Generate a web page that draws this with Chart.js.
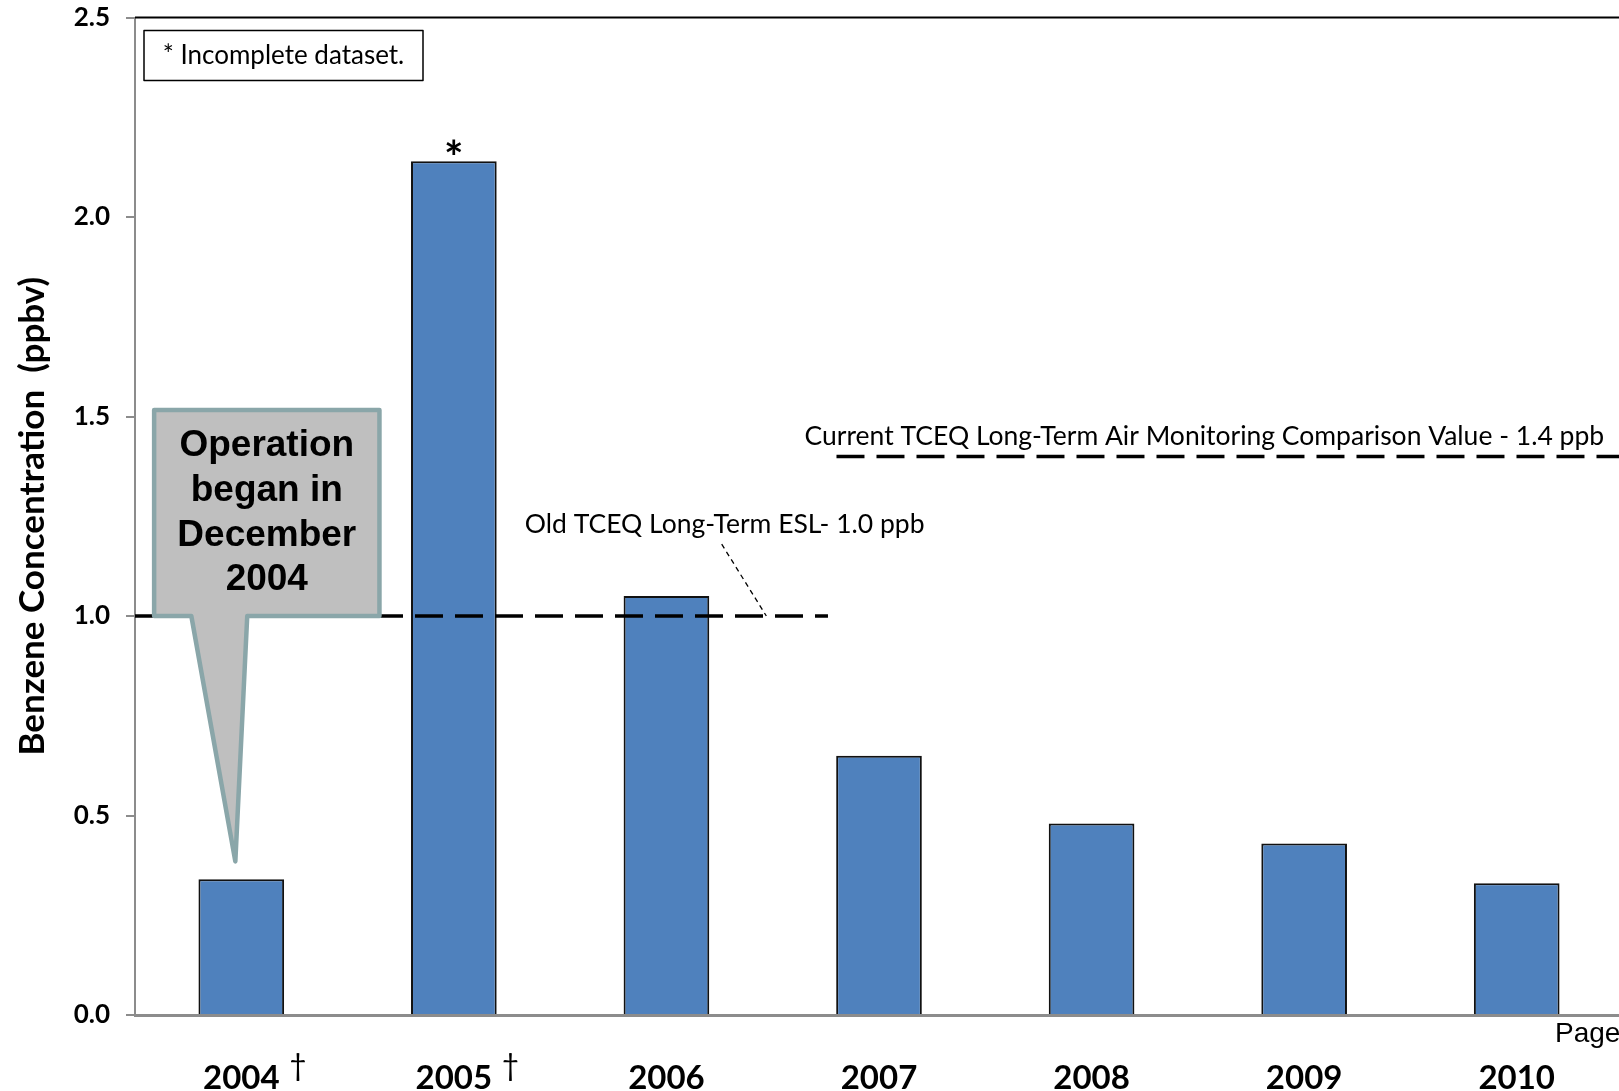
<!DOCTYPE html>
<html>
<head>
<meta charset="utf-8">
<script src="https://cdn.jsdelivr.net/npm/chart.js@4.4.0/dist/chart.umd.min.js"></script>
<style>
  html, body { margin: 0; padding: 0; background: #fff; overflow: hidden; }
  #wrap { width: 1623px; height: 1091px; }
</style>
</head>
<body>
<div id="wrap"><canvas id="myChart" width="1623" height="1091"></canvas></div>
<script>
// values
const years = ['2004', '2005', '2006', '2007', '2008', '2009', '2010'];
const benzene = [0.34, 2.14, 1.05, 0.65, 0.48, 0.43, 0.33];
const yTicks = [0, 0.5, 1.0, 1.5, 2.0, 2.5];
const daggerYears = ['2004', '2005'];
const incompleteYears = ['2005'];
const oldEsl = 1.0;
const currentAmcv = 1.4;
const eslLabel = 'Old TCEQ Long-Term ESL- 1.0 ppb';
const amcvLabel = 'Current TCEQ Long-Term Air Monitoring Comparison Value - 1.4 ppb';
const calloutLines = ['Operation', 'began in', 'December', '2004'];

function line(ctx, x0, y0, x1, y1) {
  ctx.beginPath();
  ctx.moveTo(x0, y0);
  ctx.lineTo(x1, y1);
  ctx.stroke();
}

// text centred vertically on its glyphs
function midText(ctx, txt, x, y) {
  const m = ctx.measureText(txt);
  ctx.textBaseline = 'alphabetic';
  ctx.fillText(txt, x, y + (m.actualBoundingBoxAscent - m.actualBoundingBoxDescent) / 2);
}

const notes = {
  id: 'notes',
  afterDatasetsDraw(chart) {
    const {ctx, chartArea: a, scales: {x, y}} = chart;
    const px = v => x.getPixelForValue(v);
    const py = v => y.getPixelForValue(v);
    ctx.save();

    // top frame
    ctx.strokeStyle = '#000';
    ctx.lineWidth = 2;
    line(ctx, a.left, a.top, a.right, a.top);

    // reference levels
    ctx.lineWidth = 3.5;
    ctx.setLineDash([28, 12]);
    line(ctx, px(-0.5), py(oldEsl), px(2.76), py(oldEsl));
    line(ctx, px(2.8), py(currentAmcv), a.right + 20, py(currentAmcv));

    // leader from ESL label
    ctx.lineWidth = 1.3;
    ctx.setLineDash([5, 4]);
    line(ctx, px(2.26), py(1.18), px(2.47), py(oldEsl));
    ctx.setLineDash([]);

    ctx.fillStyle = '#000';
    ctx.textAlign = 'left';
    ctx.font = '26.5px Lato';
    midText(ctx, eslLabel, px(1.334), py(1.226));
    midText(ctx, amcvLabel, px(2.65), py(1.447));

    // callout
    const bx0 = px(-0.41), bx1 = px(0.65);
    const bTop = py(1.516), bBot = py(oldEsl);
    ctx.beginPath();
    ctx.moveTo(bx0, bTop);
    ctx.lineTo(bx1, bTop);
    ctx.lineTo(bx1, bBot);
    ctx.lineTo(px(0.028), bBot);
    ctx.lineTo(px(-0.028), py(0.385));
    ctx.lineTo(px(-0.235), bBot);
    ctx.lineTo(bx0, bBot);
    ctx.closePath();
    ctx.fillStyle = '#bfbfbf';
    ctx.fill();
    ctx.lineJoin = 'round';
    ctx.lineWidth = 4.5;
    ctx.strokeStyle = '#8aa6a9';
    ctx.stroke();
    ctx.fillStyle = '#000';
    ctx.textAlign = 'center';
    ctx.textBaseline = 'alphabetic';
    ctx.font = 'bold 37px "Liberation Sans"';
    calloutLines.forEach((t, i) => ctx.fillText(t, (bx0 + bx1) / 2, bTop + 46 + i * 44.7));

    // note box
    ctx.strokeStyle = '#000';
    ctx.lineWidth = 1.5;
    ctx.strokeRect(a.left + 9, a.top + 13, 279, 50);
    ctx.font = '26px Lato';
    midText(ctx, '* Incomplete dataset.', a.left + 9 + 139.5, a.top + 38);

    // incomplete-data markers
    ctx.font = 'bold 46px Lato';
    incompleteYears.forEach(yr => {
      const i = years.indexOf(yr);
      midText(ctx, '*', px(i), py(benzene[i]) - 14);
    });

    // daggers beside tick labels
    ctx.textAlign = 'left';
    ctx.font = '30px Lato';
    daggerYears.forEach(yr => {
      midText(ctx, '\u2020', px(years.indexOf(yr)) + 48, a.bottom + 52);
    });

    // page footer fragment
    ctx.font = '28px "Liberation Sans"';
    ctx.textBaseline = 'alphabetic';
    ctx.fillText('Page', a.right - 68, a.bottom + 27);

    ctx.restore();
  }
};

function renderChart() {
  const ctx = document.getElementById('myChart').getContext('2d');
  new Chart(ctx, {
    type: 'bar',
    data: {
      labels: years,
      datasets: [{
        data: benzene,
        backgroundColor: '#4f81bd',
        borderColor: '#111',
        borderWidth: 2,
        categoryPercentage: 1,
        barPercentage: 0.403
      }]
    },
    options: {
      responsive: false,
      animation: false,
      devicePixelRatio: 1,
      layout: { padding: { top: 17.5, left: 0, right: 0, bottom: 0 } },
      plugins: { legend: { display: false }, tooltip: { enabled: false } },
      scales: {
        x: {
          grid: { display: false, drawTicks: false },
          border: { color: '#8c8c8c', width: 3 },
          ticks: { color: '#000', font: { family: 'Lato', weight: 'bold', size: 33 }, padding: 44, maxRotation: 0 },
          afterFit: s => { s.height = 76; s.paddingLeft = 0; s.paddingRight = 0; }
        },
        y: {
          min: 0,
          max: 2.5,
          afterBuildTicks: s => { s.ticks = yTicks.map(v => ({ value: v })); },
          ticks: {
            callback: v => Number(v).toFixed(1),
            color: '#000',
            font: { family: 'Lato', weight: 'bold', size: 26 },
            padding: 16
          },
          grid: { drawOnChartArea: false, tickLength: 9, color: '#8c8c8c', lineWidth: 2 },
          border: { color: '#8c8c8c', width: 2 },
          title: {
            display: true,
            text: 'Benzene Concentration  (ppbv)',
            color: '#000',
            font: { family: 'Lato', weight: 'bold', size: 35 },
            padding: { top: 12, bottom: 0 }
          },
          afterFit: s => { s.width = 135; s.paddingTop = 0; s.paddingBottom = 0; }
        }
      }
    },
    plugins: [notes]
  });
}

Promise.all([
  document.fonts.load('bold 30px Lato'),
  document.fonts.load('24px Lato'),
  document.fonts.load('bold 35px "Liberation Sans"')
]).then(renderChart, renderChart);
</script>
</body>
</html>
